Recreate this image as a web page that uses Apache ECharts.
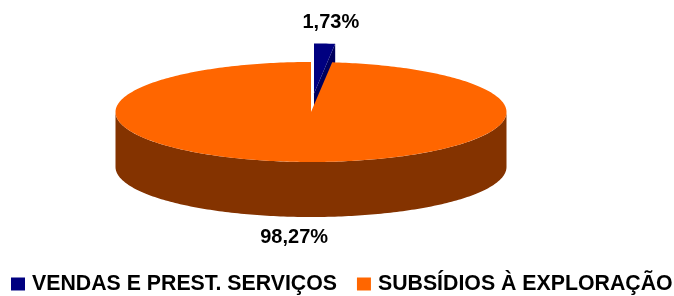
<!DOCTYPE html>
<html>
<head>
<meta charset="utf-8">
<script src="https://cdn.jsdelivr.net/npm/echarts@6/dist/echarts.min.js"></script>
<style>
html, body { margin: 0; padding: 0; background: #fff; }
#chart { width: 674px; height: 296px; }
</style>
</head>
<body>
<div id="chart"></div>
<script>
const names = ['VENDAS E PREST. SERVIÇOS', 'SUBSÍDIOS À EXPLORAÇÃO'];
const values = [1.73, 98.27];
const exploded = [true, false];

const topColors = ['#000080', '#ff6600'];
const sideColors = ['#00005e', '#843300'];
const font = '"Liberation Sans", Arial, sans-serif';

// fake 3d pie layout (ellipse seen from above)
const cx = 311, cy = 112, rx = 195.5, ry = 50, depth = 55;
const explodeX = 55, explodeY = 18.5;
const labelRx = 310, labelRy = 71;

const total = values.reduce((a, b) => a + b, 0);
const rad = d => d * Math.PI / 180;

// angle in degrees, clockwise from 12 o'clock
function pt(x0, y0, deg, dy) {
    return [x0 + rx * Math.sin(rad(deg)), y0 - ry * Math.cos(rad(deg)) + (dy || 0)];
}

function arc(x0, y0, a, b, dy) {
    const pts = [];
    const n = Math.max(2, Math.ceil(Math.abs(b - a)));
    for (let i = 0; i <= n; i++) {
        pts.push(pt(x0, y0, a + (b - a) * i / n, dy));
    }
    return pts;
}

function renderSlice(params, api) {
    const i = params.seriesIndex;
    let cum = 0;
    for (let k = 0; k < i; k++) cum += values[k];
    const v = api.value(0);
    const a = cum / total * 360;
    const b = (cum + v) / total * 360;
    const mid = (a + b) / 2;
    let x0 = cx, y0 = cy;
    if (exploded[i]) {
        x0 += explodeX * Math.sin(rad(mid));
        y0 -= explodeY * Math.cos(rad(mid));
    }
    const side = sideColors[i];
    const children = [];

    // outer wall, only the front half shows
    const wa = Math.max(a, 90), wb = Math.min(b, 270);
    if (wb > wa) {
        children.push({
            type: 'polygon',
            shape: { points: arc(x0, y0, wa, wb, 0).concat(arc(x0, y0, wb, wa, depth)) },
            style: { fill: side },
        });
    }
    // cut faces turned towards the viewer
    [[a, a > 180 && a < 360], [b, b > 0 && b < 180]].forEach(([d, vis]) => {
        if (!vis) return;
        const r = pt(x0, y0, d);
        children.push({
            type: 'polygon',
            shape: { points: [[x0, y0], r, [r[0], r[1] + depth], [x0, y0 + depth]] },
            style: { fill: side },
        });
    });
    // top face
    children.push({
        type: 'polygon',
        shape: { points: [[x0, y0]].concat(arc(x0, y0, a, b, 0)) },
        style: { fill: topColors[i] },
    });
    // percentage label
    const c = Math.cos(rad(mid));
    children.push({
        type: 'text',
        x: x0 + labelRx * Math.sin(rad(mid)),
        y: y0 - labelRy * c + (c < 0 ? depth : 0),
        style: {
            text: (v / total * 100).toFixed(2).replace('.', ',') + '%',
            fill: '#000',
            font: 'bold 20px ' + font,
            align: 'center',
            verticalAlign: 'middle',
        },
    });
    return { type: 'group', children: children };
}

const myChart = echarts.init(document.getElementById('chart'));
const option = {
    animation: false,
    legend: {
        left: 11,
        top: 273,
        padding: 0,
        icon: 'rect',
        itemWidth: 14,
        itemHeight: 13,
        itemGap: 20,
        selectedMode: false,
        textStyle: {
            fontSize: 21.3,
            fontWeight: 'bold',
            fontFamily: font,
            color: '#000',
            lineHeight: 22,
            padding: [0, 0, 0, 2],
        },
    },
    series: names.map((n, i) => ({
        type: 'custom',
        name: n,
        coordinateSystem: 'none',
        silent: true,
        z: 2 + i,
        itemStyle: { color: topColors[i] },
        renderItem: renderSlice,
        data: [values[i]],
    })),
};
myChart.setOption(option);
window.addEventListener('resize', myChart.resize);
</script>
</body>
</html>
